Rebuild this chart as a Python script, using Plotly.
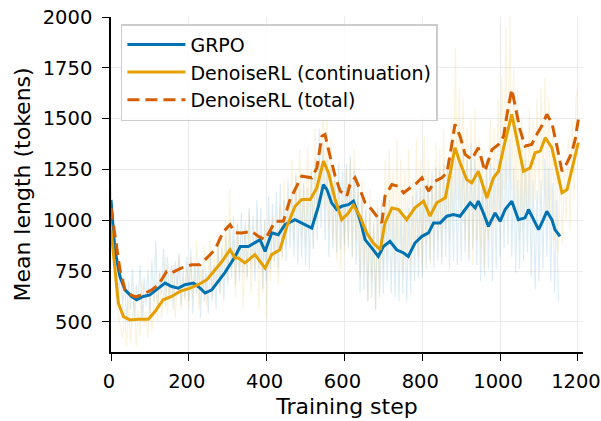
import plotly.graph_objects as go

# ---- smoothed series ----
grpo_steps = [0, 10, 23, 36, 53, 66, 83, 100, 122, 139, 156, 173, 190, 212, 229, 242, 259, 276, 293, 319,
              332, 353, 370, 383, 396, 413, 430, 447, 473, 490, 516, 533, 546, 555, 567, 580, 593, 610, 623,
              640, 653, 670, 687, 700, 717, 734, 752, 764, 781, 799, 816, 829, 846, 863, 880, 897, 910, 923,
              936, 944, 957, 970, 987, 1000, 1013, 1030, 1047, 1064, 1073, 1086, 1099, 1111, 1120, 1133, 1141, 1154]
grpo_vals = [1100, 855, 723, 658, 625, 609, 625, 633, 666, 691, 674, 666, 683, 691, 666, 642, 658, 699, 744, 822,
             871, 871, 888, 905, 847, 938, 929, 978, 1003, 987, 962, 1069, 1176, 1151, 1086, 1053, 1069, 1077, 1094,
             1003, 905, 864, 822, 871, 896, 855, 839, 822, 888, 921, 938, 987, 987, 1020, 1028, 1020, 1053, 1086,
             1061, 1094, 1036, 970, 1036, 995, 1053, 1094, 1003, 1012, 1053, 1003, 954, 1003, 1044, 1003, 954, 921]

cont_steps = [0, 10, 19, 32, 49, 70, 96, 113, 134, 156, 177, 203, 224, 246, 267, 285, 306, 319, 327, 344, 370,
              387, 396, 413, 434, 452, 473, 490, 512, 529, 546, 559, 576, 593, 610, 623, 640, 657, 674, 692, 704,
              722, 739, 760, 781, 803, 820, 837, 859, 871, 884, 897, 914, 927, 944, 966, 983, 996, 1009, 1030,
              1047, 1060, 1077, 1090, 1103, 1116, 1133, 1146, 1159, 1172, 1184, 1201]
cont_vals = [954, 756, 592, 526, 510, 513, 513, 551, 609, 625, 650, 666, 683, 707, 756, 797, 855, 814, 814, 790, 831,
             790, 765, 831, 855, 970, 1069, 1102, 1102, 1159, 1291, 1233, 1102, 1003, 1036, 1075, 1019, 938, 888, 855, 987,
             1061, 1053, 1003, 1061, 1094, 1020, 1086, 1110, 1225, 1357, 1283, 1200, 1184, 1241, 1110, 1209, 1241, 1357, 1521,
             1365, 1241, 1258, 1332, 1340, 1406, 1357, 1250, 1135, 1151, 1250, 1382]

total_steps = [0, 10, 23, 36, 50, 62, 79, 92, 105, 122, 143, 156, 182, 207, 229, 250, 267, 289, 306, 319, 336,
               362, 379, 396, 409, 422, 443, 460, 477, 490, 516, 529, 542, 550, 563, 576, 589, 606, 614, 627, 640,
               653, 670, 687, 696, 704, 722, 739, 752, 769, 786, 799, 816, 833, 850, 863, 871, 884, 897, 910, 927,
               944, 961, 979, 996, 1009, 1017, 1030, 1039, 1051, 1064, 1081, 1094, 1107, 1120, 1133, 1146, 1159,
               1172, 1184, 1193, 1201]
total_vals = [1062, 921, 756, 658, 635, 623, 633, 645, 658, 683, 748, 742, 766, 781, 781, 822, 855, 945, 978, 939, 938,
              945, 921, 905, 954, 995, 995, 1102, 1167, 1217, 1209, 1258, 1414, 1422, 1315, 1217, 1143, 1118, 1176, 1209, 1151,
              1086, 1053, 1012, 987, 1118, 1176, 1167, 1135, 1160, 1184, 1209, 1143, 1192, 1209, 1233, 1315, 1472, 1414, 1324, 1299,
              1357, 1241, 1348, 1373, 1414, 1513, 1645, 1562, 1447, 1365, 1373, 1422, 1464, 1521, 1480, 1365, 1241,
              1283, 1332, 1398, 1496]

# ---- raw (unsmoothed) series, every 5 steps ----
cont_raw_steps = list(range(0, 1201, 5))
cont_raw_vals = [
    1000, 880, 700, 560, 520, 470, 420, 560, 380, 600, 400, 520, 640, 380, 560, 430, 700, 480, 540, 420,
    620, 450, 580, 700, 500, 760, 520, 640, 820, 540, 700, 600, 780, 520, 680, 820, 560, 720, 600, 760,
    560, 820, 620, 700, 900, 560, 780, 640, 880, 580, 760, 900, 620, 820, 700, 940, 640, 880, 760, 1020,
    700, 1150, 760, 900, 620, 1000, 740, 860, 560, 960, 700, 1050, 640, 880, 760, 1000, 560, 900, 640, 1000,
    520, 880, 700, 1020, 760, 940, 680, 1080, 800, 1200, 880, 1100, 960, 1300, 900, 1240, 1000, 1350, 920, 1200,
    880, 1360, 960, 1250, 860, 1450, 1000, 1300, 1100, 1600, 1050, 1500, 960, 1400, 900, 1250, 800, 1200, 760, 1100,
    840, 1250, 880, 1300, 820, 1350, 900, 1150, 720, 1200, 780, 1050, 600, 1150, 700, 1000, 560, 1100, 640, 1050,
    760, 1300, 820, 1350, 900, 1250, 760, 1400, 880, 1300, 740, 1250, 840, 1350, 780, 1200, 900, 1400, 820, 1300,
    760, 1420, 880, 1300, 780, 1200, 860, 1380, 900, 1350, 820, 1450, 960, 1300, 900, 1500, 1000, 1850, 1100, 1650,
    1000, 1600, 900, 1450, 820, 1500, 780, 1550, 900, 1400, 860, 1350, 760, 1300, 900, 1500, 960, 1450, 1000, 1600,
    1050, 1700, 1150, 1950, 1200, 2000, 1150, 1750, 1000, 1650, 900, 1500, 960, 1400, 1000, 1550, 1050, 1500, 1100, 1600,
    1080, 1650, 1150, 1700, 1050, 1600, 1000, 1450, 900, 1350, 850, 1300, 880, 1250, 1000, 1400, 950, 1500, 1100, 1600,
    1650]

grpo_raw_steps = list(range(0, 1151, 5))
grpo_raw_vals = [
    1180, 1000, 760, 820, 640, 780, 560, 720, 500, 700, 560, 760, 520, 680, 600, 780, 500, 720, 580, 760,
    540, 800, 600, 900, 560, 740, 640, 860, 580, 820, 620, 780, 560, 800, 660, 840, 580, 760, 620, 820,
    600, 860, 540, 780, 640, 800, 520, 760, 600, 740, 540, 820, 600, 780, 560, 880, 640, 860, 600, 920,
    680, 960, 720, 1020, 680, 980, 700, 1040, 740, 1000, 720, 1060, 760, 1020, 700, 1100, 760, 1060, 660, 1000,
    700, 1120, 760, 1080, 800, 1140, 760, 1180, 820, 1100, 800, 1200, 860, 1140, 820, 1220, 780, 1160, 820, 1180,
    780, 1160, 760, 1240, 860, 1300, 900, 1450, 960, 1380, 900, 1300, 820, 1250, 860, 1200, 840, 1280, 860, 1240,
    880, 1280, 860, 1320, 820, 1250, 780, 1200, 640, 1100, 660, 1060, 600, 1040, 620, 980, 560, 1060, 620, 1100,
    640, 1120, 700, 1100, 640, 1060, 620, 1080, 600, 1040, 640, 1020, 600, 1060, 640, 1120, 700, 1150, 720, 1160,
    720, 1180, 760, 1200, 800, 1240, 760, 1260, 800, 1250, 780, 1280, 820, 1300, 760, 1260, 800, 1300, 780, 1280,
    800, 1350, 840, 1300, 800, 1380, 860, 1300, 780, 1240, 700, 1200, 720, 1300, 760, 1280, 700, 1260, 760, 1300,
    820, 1280, 860, 1360, 880, 1400, 820, 1260, 740, 1200, 760, 1250, 800, 1300, 840, 1260, 720, 1200, 660, 1150,
    700, 1200, 760, 1300, 820, 1260, 700, 1180, 640, 1100, 600]

BLUE = "#0072B2"
YEL = "#E69F00"
RED = "#D55E00"

fig = go.Figure()
fig.add_trace(go.Scatter(x=grpo_raw_steps, y=grpo_raw_vals, mode="lines",
                         line=dict(color="rgba(0,114,178,0.13)", width=1.2),
                         showlegend=False, hoverinfo="skip"))
fig.add_trace(go.Scatter(x=cont_raw_steps, y=cont_raw_vals, mode="lines",
                         line=dict(color="rgba(230,159,0,0.13)", width=1.2),
                         showlegend=False, hoverinfo="skip"))
fig.add_trace(go.Scatter(x=grpo_steps, y=grpo_vals, mode="lines", name="GRPO",
                         line=dict(color=BLUE, width=3)))
fig.add_trace(go.Scatter(x=cont_steps, y=cont_vals, mode="lines", name="DenoiseRL (continuation)",
                         line=dict(color=YEL, width=3)))
fig.add_trace(go.Scatter(x=total_steps, y=total_vals, mode="lines", name="DenoiseRL (total)",
                         line=dict(color=RED, width=3, dash="12px,6px")))

axis_common = dict(
    showline=True, linecolor="black", linewidth=1.5,
    ticks="outside", ticklen=7, tickwidth=1.3, tickcolor="black",
    showgrid=True, gridcolor="#ebebeb", gridwidth=1,
    zeroline=False, mirror=False, automargin=False,
    ticklabeloverflow="allow",
    tickfont=dict(family="DejaVu Sans", size=19.5, color="black"),
)

fig.update_xaxes(range=[0, 1213], tickvals=[0, 200, 400, 600, 800, 1000, 1200],
                 title=dict(text="Training step", font=dict(family="DejaVu Sans", size=22, color="black"),
                            standoff=6),
                 ticklabelstandoff=4, ticklabelshift=-2, **axis_common)
fig.update_yaxes(range=[352, 2000], tickvals=[500, 750, 1000, 1250, 1500, 1750, 2000],
                 title=dict(text="Mean length (tokens)", font=dict(family="DejaVu Sans", size=22, color="black"),
                            standoff=6),
                 ticklabelstandoff=6, **axis_common)

fig.update_layout(
    width=601, height=421,
    margin=dict(l=111, r=18, t=17, b=69),
    plot_bgcolor="white", paper_bgcolor="white",
    font=dict(family="DejaVu Sans", color="black"),
    legend=dict(x=0.021, y=0.979, xanchor="left", yanchor="top",
                bgcolor="rgba(255,255,255,0.85)", bordercolor="#cccccc", borderwidth=1.5,
                font=dict(family="DejaVu Sans", size=19, color="black"),
                itemwidth=58, tracegroupgap=0),
)

# remove the page's default body margin so the figure fills the window exactly
fig.write_html("out.html", config={"displayModeBar": False},
               post_script="document.body.style.margin='0';")
